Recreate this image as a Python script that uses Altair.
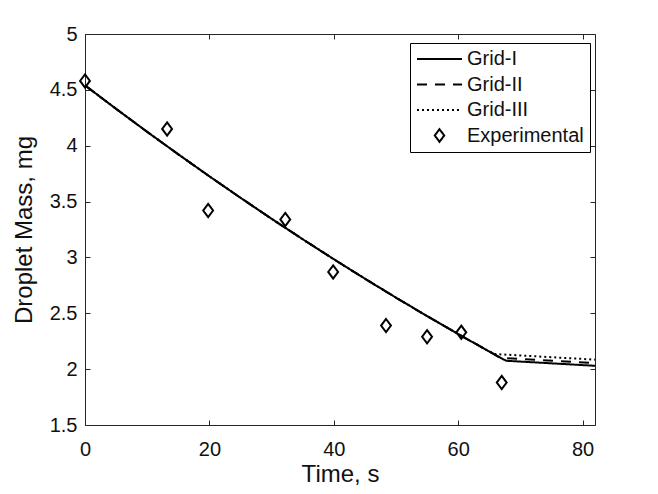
import altair as alt
import pandas as pd

# ---------------- data ----------------
series_names = ["Grid-I", "Grid-II", "Grid-III", "Experimental"]

# shared part of the three simulated curves (they coincide up to ~65 s)
common_time = [0, 5, 10, 15, 20, 25, 30, 35, 40, 45, 50, 55, 60, 65]
common_mass = [4.54, 4.330, 4.124, 3.923, 3.726, 3.534, 3.346, 3.163, 2.984, 2.810, 2.640, 2.475, 2.314, 2.158]

# tails after the kink
grid1_tail_time = [67.7, 82]
grid1_tail_mass = [2.075, 2.03]
grid2_tail_time = [66.8, 82]
grid2_tail_mass = [2.10, 2.055]
grid3_tail_time = [66.0, 82]
grid3_tail_mass = [2.135, 2.085]

exp_time = [0, 13.2, 19.8, 32.2, 39.9, 48.4, 55.0, 60.5, 67.0]
exp_mass = [4.58, 4.15, 3.42, 3.34, 2.87, 2.39, 2.29, 2.33, 1.88]

x_ticks = [0, 20, 40, 60, 80]
y_ticks = [1.5, 2, 2.5, 3, 3.5, 4, 4.5, 5]

# ---------------- tables ----------------
rows = []
for name, tt, tm in [("Grid-I", grid1_tail_time, grid1_tail_mass),
                     ("Grid-II", grid2_tail_time, grid2_tail_mass),
                     ("Grid-III", grid3_tail_time, grid3_tail_mass)]:
    for t, m in zip(common_time + tt, common_mass + tm):
        rows.append({"series": name, "time": t, "mass": m})
lines_df = pd.DataFrame(rows)
exp_df = pd.DataFrame({"series": "Experimental", "time": exp_time, "mass": exp_mass})

FONT = "Liberation Sans"
AX = "#262626"
TXT = "#111111"
W, H = 510, 391

line_path = "M-1,0L1,0"
diamond_path = "M0,-0.28L0.21,0L0,0.28L-0.21,0Z"

x_scale = alt.Scale(domain=[0, 82], nice=False, zero=False)
y_scale = alt.Scale(domain=[1.5, 5], nice=False, zero=False)
dash_scale = alt.Scale(domain=series_names, range=[[1, 0], [10, 8], [2, 3], [1, 0]])
shape_scale = alt.Scale(domain=series_names, range=[line_path, line_path, line_path, diamond_path])

legend_props = dict(title=None, orient="none", legendX=325, legendY=9)

tick_axis = dict(domain=False, grid=False, tickSize=5, offset=-5, tickColor=AX,
                 tickWidth=1, labelFlush=False, labelColor=TXT, labelFont=FONT, labelFontSize=20)
title_axis = dict(titleFont=FONT, titleFontSize=24, titleFontWeight="normal", titleColor=TXT)

lines = alt.Chart(lines_df).mark_line(color="black", strokeWidth=2).encode(
    x=alt.X("time:Q", scale=x_scale,
            axis=alt.Axis(orient="bottom", values=x_ticks, title="Time, s",
                          labelPadding=14, titlePadding=3, **tick_axis, **title_axis)),
    y=alt.Y("mass:Q", scale=y_scale,
            axis=alt.Axis(orient="left", values=y_ticks, title="Droplet Mass, mg", format="~g",
                          labelPadding=8, titlePadding=13, **tick_axis, **title_axis)),
    strokeDash=alt.StrokeDash("series:N", scale=dash_scale, legend=alt.Legend(**legend_props)),
    detail="series:N",
)

points = alt.Chart(exp_df).mark_point(color="black", filled=False, size=2209, strokeWidth=2,
                                      opacity=1).encode(
    x=alt.X("time:Q", scale=x_scale,
            axis=alt.Axis(orient="top", values=x_ticks, labels=False, title=None, **tick_axis)),
    y=alt.Y("mass:Q", scale=y_scale,
            axis=alt.Axis(orient="right", values=y_ticks, labels=False, title=None, **tick_axis)),
    shape=alt.Shape("series:N", scale=shape_scale, legend=alt.Legend(**legend_props)),
)

chart = alt.layer(lines, points).resolve_axis(x="independent", y="independent").properties(
    width=W, height=H,
    autosize=alt.AutoSizeParams(type="none"),
    padding={"left": 77, "top": 26, "right": 55, "bottom": 66},
).configure_view(stroke=AX, strokeWidth=1).configure_legend(
    labelFont=FONT, labelFontSize=20, labelColor=TXT, labelOffset=4,
    symbolSize=2025, symbolStrokeWidth=2, symbolStrokeColor="black",
    clipHeight=20, rowPadding=5.5, padding=6,
    strokeColor="black", fillColor="white", symbolOffset=0,
)

chart.save("out.html", embed_options={"renderer": "svg", "actions": False})
